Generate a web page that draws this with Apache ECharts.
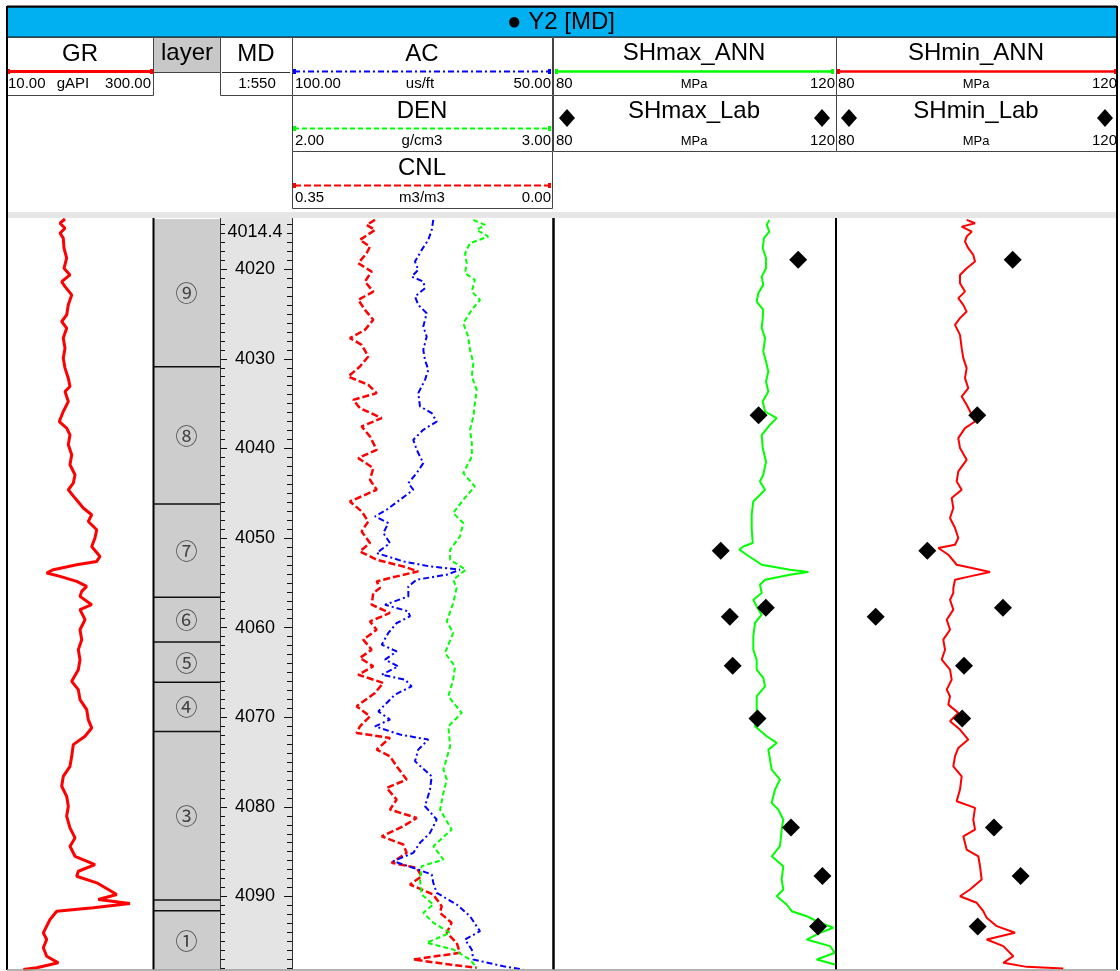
<!DOCTYPE html>
<html><head><meta charset="utf-8">
<script src="https://cdn.jsdelivr.net/npm/echarts@6/dist/echarts.min.js"></script>
<style>html,body{margin:0;padding:0;background:#fff}#c{width:1120px;height:971px}</style>
</head><body><div id="c"></div>
<script>
const FONT = '"Liberation Sans", Arial, Helvetica, sans-serif';
const CJK = '"Noto Sans CJK SC", "DejaVu Sans", sans-serif';

// ---------- depth range & MD ticks ----------
const depthTop = 4014.4;
const depthBottom = 4098.2;
const mdMajorTicks = [4020, 4030, 4040, 4050, 4060, 4070, 4080, 4090];
const mdTopLabel = '4014.4';

// ---------- track scales (header tick labels) ----------
const grScale = [10, 300];
const acScale = [100, 50];
const denScale = [2, 3];
const cnlScale = [0.35, 0];
const shScale = [80, 120];

// ---------- layers ----------
const layerNames = ['⑨', '⑧', '⑦', '⑥', '⑤', '④', '③', '②', '①'];
const layerTop  = [4014.4, 4030.9, 4046.2, 4056.6, 4061.6, 4066.1, 4071.6, 4090.4, 4091.6];
const layerBase = [4030.9, 4046.2, 4056.6, 4061.6, 4066.1, 4071.6, 4090.4, 4091.6, 4098.2];

// ---------- curves: [depth, value] ----------
const grCurve = [[4014.4,125.6],[4014.87,115.5],[4015.43,125.6],[4015.99,115.5],[4016.54,122.1],[4017.66,123.6],[4018.77,129.0],[4019.89,123.6],[4020.64,135.7],[4021.38,118.9],[4021.94,125.6],[4022.87,139.2],[4023.98,132.3],[4025.10,129.0],[4025.84,118.9],[4026.58,129.0],[4027.69,122.1],[4028.81,125.6],[4029.93,122.1],[4031.04,125.6],[4032.16,132.3],[4033.09,135.7],[4033.65,125.6],[4034.77,132.3],[4035.88,122.1],[4037.00,114.0],[4037.73,129.0],[4038.48,135.7],[4039.59,132.3],[4040.71,139.2],[4041.82,135.7],[4042.94,145.9],[4043.87,142.4],[4044.61,132.3],[4045.54,145.9],[4046.65,162.7],[4047.40,179.7],[4048.15,172.8],[4049.07,189.9],[4050.00,186.4],[4050.94,179.7],[4052.05,196.6],[4052.61,189.9],[4052.98,149.3],[4053.53,101.9],[4053.90,88.5],[4054.28,115.5],[4054.84,149.3],[4055.40,169.6],[4055.95,159.5],[4056.51,156.0],[4057.44,179.7],[4057.99,156.0],[4059.11,166.2],[4060.23,156.0],[4061.34,159.5],[4062.46,152.6],[4063.57,156.0],[4064.69,152.6],[4065.99,139.2],[4066.92,152.6],[4068.03,156.0],[4069.15,169.6],[4070.26,172.8],[4071.19,179.7],[4072.12,166.2],[4073.05,142.4],[4074.36,139.2],[4075.47,135.7],[4076.59,122.1],[4077.70,118.9],[4078.82,129.0],[4079.93,132.3],[4081.05,129.0],[4082.34,135.7],[4083.46,145.9],[4084.39,135.7],[4085.51,145.9],[4086.43,186.4],[4087.18,152.6],[4087.74,149.3],[4088.47,189.9],[4089.22,213.4],[4089.78,230.4],[4090.34,193.1],[4090.78,257.4],[4091.26,183.0],[4091.64,108.8],[4092.57,95.2],[4094.05,81.6],[4094.80,88.5],[4095.72,81.6],[4096.66,88.5],[4097.40,112.0],[4097.95,68.2],[4098.14,41.0]];

const acCurve = [[4014.50,72.81],[4015.62,73.12],[4016.73,73.78],[4017.85,75.06],[4019.15,76.36],[4020.08,75.72],[4020.83,77.00],[4021.38,74.75],[4022.12,74.42],[4023.06,76.36],[4023.98,75.72],[4024.91,74.09],[4026.40,74.75],[4027.52,74.09],[4029.00,74.75],[4030.12,74.42],[4031.23,73.78],[4032.35,74.42],[4033.83,75.72],[4035.32,75.39],[4036.06,73.12],[4037.00,72.15],[4037.92,74.75],[4039.04,76.69],[4040.15,76.03],[4041.64,74.75],[4042.75,76.03],[4043.87,77.65],[4044.61,76.69],[4045.73,79.26],[4046.84,81.84],[4047.59,84.11],[4048.33,81.53],[4049.44,82.50],[4050.56,81.20],[4051.67,83.78],[4052.61,78.62],[4053.17,73.45],[4053.53,67.64],[4054.09,70.21],[4054.65,76.03],[4055.40,77.65],[4056.51,77.65],[4057.44,82.17],[4058.18,77.65],[4058.74,77.33],[4059.48,79.90],[4060.59,81.53],[4061.90,82.81],[4062.65,79.90],[4063.57,82.17],[4064.32,79.59],[4065.25,82.81],[4065.80,78.29],[4066.55,77.00],[4067.47,80.23],[4068.40,81.84],[4069.34,83.47],[4070.26,81.20],[4071.01,84.11],[4071.93,79.26],[4072.49,73.78],[4073.61,75.72],[4074.91,76.36],[4076.59,73.12],[4078.07,73.45],[4079.93,74.42],[4081.41,72.15],[4082.90,73.45],[4084.01,75.39],[4085.13,76.69],[4086.06,80.56],[4086.99,75.72],[4087.55,73.12],[4088.47,72.81],[4089.59,72.15],[4090.89,68.28],[4092.20,65.70],[4093.87,63.76],[4094.80,66.67],[4095.91,65.37],[4097.03,65.06],[4097.78,59.24],[4098.14,55.37]];

const denCurve = [[4014.50,2.699],[4015.06,2.744],[4015.62,2.712],[4016.36,2.757],[4017.10,2.686],[4018.22,2.667],[4019.33,2.673],[4020.45,2.667],[4021.19,2.705],[4022.50,2.693],[4023.42,2.725],[4024.54,2.693],[4026.02,2.660],[4027.52,2.679],[4029.00,2.686],[4030.48,2.699],[4031.98,2.693],[4033.46,2.712],[4034.94,2.705],[4036.44,2.699],[4037.92,2.686],[4039.40,2.693],[4040.90,2.693],[4042.75,2.660],[4044.24,2.705],[4045.73,2.660],[4047.21,2.621],[4048.33,2.660],[4049.82,2.647],[4051.30,2.609],[4052.42,2.609],[4053.53,2.670],[4054.65,2.621],[4055.58,2.634],[4055.77,2.641],[4057.25,2.621],[4059.30,2.596],[4060.59,2.621],[4062.82,2.589],[4064.32,2.628],[4065.80,2.621],[4067.66,2.602],[4069.51,2.654],[4071.01,2.602],[4073.24,2.609],[4075.84,2.583],[4076.95,2.596],[4078.44,2.583],[4080.30,2.570],[4082.53,2.615],[4084.39,2.544],[4085.88,2.583],[4086.62,2.499],[4088.11,2.492],[4089.78,2.499],[4090.89,2.544],[4091.82,2.505],[4092.93,2.544],[4094.05,2.609],[4095.16,2.518],[4095.91,2.621],[4097.03,2.686],[4097.95,2.712]];

const cnlCurve = [[4014.50,0.2388],[4015.06,0.2501],[4015.62,0.2388],[4016.73,0.2592],[4017.48,0.2456],[4018.22,0.2501],[4019.33,0.2615],[4020.27,0.2433],[4021.38,0.2524],[4022.50,0.2411],[4023.42,0.2615],[4024.54,0.2524],[4025.65,0.2411],[4026.77,0.2524],[4027.69,0.2728],[4028.44,0.2569],[4029.75,0.2479],[4030.86,0.2592],[4031.98,0.2751],[4032.90,0.2479],[4033.83,0.2365],[4034.58,0.2683],[4035.50,0.2592],[4036.62,0.2297],[4037.55,0.2569],[4038.67,0.2456],[4040.15,0.2365],[4041.08,0.2615],[4042.19,0.2411],[4043.50,0.2456],[4044.61,0.2365],[4045.92,0.2728],[4047.03,0.2569],[4048.15,0.2479],[4049.26,0.2569],[4050.56,0.2456],[4051.49,0.2592],[4052.42,0.2365],[4053.17,0.2004],[4053.72,0.1801],[4054.28,0.2094],[4054.84,0.2365],[4055.58,0.2320],[4056.13,0.2411],[4057.44,0.2433],[4058.36,0.2185],[4059.30,0.2456],[4060.23,0.2365],[4061.34,0.2547],[4062.46,0.2433],[4063.38,0.2592],[4064.32,0.2411],[4065.25,0.2615],[4066.17,0.2276],[4067.28,0.2388],[4068.78,0.2637],[4069.89,0.2456],[4071.01,0.2592],[4071.75,0.2637],[4072.30,0.2185],[4073.61,0.2365],[4074.35,0.2185],[4075.47,0.2094],[4076.95,0.1958],[4077.88,0.2230],[4079.19,0.2094],[4080.30,0.2185],[4081.23,0.1822],[4082.16,0.2004],[4083.28,0.2297],[4084.20,0.2004],[4085.13,0.1958],[4086.24,0.2162],[4086.80,0.1822],[4087.74,0.1755],[4088.66,0.1913],[4089.78,0.1597],[4091.08,0.1483],[4091.82,0.1506],[4092.93,0.1348],[4094.05,0.1415],[4095.16,0.1280],[4096.28,0.1235],[4097.03,0.1869],[4097.59,0.1371],[4097.95,0.1008]];

const shmaxAnn = [[4014.50,110.65],[4015.06,110.28],[4015.81,110.65],[4016.54,109.89],[4017.66,109.71],[4018.77,110.18],[4019.89,110.18],[4020.83,109.57],[4021.75,109.79],[4022.68,109.08],[4023.61,108.85],[4024.54,109.79],[4025.46,109.71],[4026.58,109.57],[4027.69,110.04],[4029.19,109.79],[4030.30,110.18],[4031.42,110.51],[4032.53,110.18],[4033.65,110.51],[4034.77,109.71],[4035.88,110.04],[4036.62,111.70],[4037.36,110.75],[4038.48,109.57],[4039.96,109.71],[4041.46,110.18],[4042.94,109.79],[4043.69,109.32],[4044.61,110.04],[4045.92,108.37],[4047.40,108.14],[4048.88,108.14],[4050.56,108.28],[4050.94,106.95],[4051.30,106.38],[4051.86,107.43],[4052.98,109.57],[4053.53,113.59],[4053.79,116.20],[4054.09,113.59],[4054.65,110.04],[4055.21,109.32],[4056.13,109.57],[4056.88,108.37],[4057.63,108.85],[4058.55,109.57],[4059.48,108.61],[4060.97,108.37],[4062.46,108.37],[4063.57,108.85],[4064.69,108.85],[4065.61,109.79],[4066.55,110.04],[4067.66,108.85],[4068.78,108.85],[4069.89,108.85],[4071.01,108.61],[4072.12,110.28],[4072.86,111.70],[4073.61,110.51],[4074.72,110.75],[4075.84,110.99],[4076.95,112.17],[4078.07,111.46],[4079.55,110.99],[4080.30,111.93],[4081.41,112.64],[4082.53,112.41],[4084.39,112.17],[4085.51,110.99],[4086.62,112.64],[4088.11,112.41],[4089.22,112.64],[4089.97,111.70],[4090.89,113.12],[4091.64,113.84],[4092.20,115.97],[4092.76,117.39],[4093.49,119.76],[4094.05,117.86],[4094.80,115.97],[4095.54,119.29],[4096.28,120.0],[4097.03,117.39],[4097.59,120.0]];

const shminAnn = [[4014.50,98.60],[4014.87,99.79],[4015.25,97.89],[4015.81,99.32],[4016.36,98.60],[4016.92,98.36],[4017.66,98.83],[4018.41,99.54],[4019.15,99.79],[4019.89,98.60],[4020.64,97.65],[4021.56,97.65],[4022.50,98.36],[4023.23,97.41],[4023.98,98.12],[4024.73,98.60],[4025.46,97.65],[4026.21,96.94],[4027.33,97.65],[4028.81,97.89],[4029.93,98.12],[4031.04,98.60],[4032.16,98.36],[4033.27,98.83],[4034.21,97.89],[4035.13,98.60],[4036.25,99.32],[4037.00,99.79],[4037.73,98.36],[4038.85,97.41],[4039.96,97.65],[4041.27,98.60],[4042.57,97.41],[4043.69,97.18],[4044.61,97.89],[4045.54,96.47],[4046.65,96.70],[4047.77,96.23],[4048.88,96.94],[4050.00,97.41],[4050.75,96.94],[4051.11,94.56],[4051.86,95.99],[4052.98,97.18],[4053.53,100.50],[4053.79,101.92],[4054.28,99.07],[4054.65,96.94],[4055.58,96.70],[4056.13,96.70],[4056.88,96.23],[4057.99,96.70],[4059.11,95.76],[4060.23,96.23],[4061.34,95.27],[4062.46,95.52],[4063.57,95.05],[4064.69,96.23],[4065.80,96.47],[4066.92,95.76],[4067.66,96.23],[4068.59,95.99],[4069.51,97.41],[4070.45,96.23],[4071.37,97.65],[4072.49,98.83],[4073.42,97.41],[4074.35,96.94],[4075.47,96.70],[4076.59,97.89],[4078.07,97.65],[4079.37,97.18],[4080.11,99.79],[4081.41,99.54],[4082.53,99.79],[4083.28,98.12],[4084.76,98.60],[4085.51,100.26],[4086.62,100.50],[4088.11,100.74],[4089.22,99.07],[4089.97,97.65],[4090.70,100.03],[4091.64,100.97],[4092.38,101.45],[4093.31,102.88],[4094.05,105.48],[4094.80,101.45],[4095.54,103.82],[4096.66,105.24],[4097.40,103.82],[4097.85,107.15],[4098.03,112.36]];

// ---------- lab points ----------
const labDepth = [4018.96, 4036.30, 4051.42, 4057.78, 4058.78, 4064.24, 4070.15, 4082.30, 4087.71, 4093.35];
const shmaxLab = [114.76, 109.12, 103.74, 110.15, 105.03, 105.44, 108.97, 113.74, 118.21, 117.58];
const shminLab = [105.15, 100.11, 93.00, 103.76, 85.65, 98.22, 97.96, 102.48, 106.28, 100.17];

// ================= layout =================
const TOP = 219, H = 751;
const g = (left, width) => ({ left, width, top: TOP, height: H, containLabel: false });
const grids = [g(8,143), g(153,67), g(220,72), g(293,258), g(293,258), g(293,258), g(554,281), g(836,281)];

const hx = (i, a, b) => ({ type: 'value', gridIndex: i, min: Math.min(a,b), max: Math.max(a,b), inverse: a > b, show: false, splitLine:{show:false} });
const xAxes = [hx(0, grScale[0], grScale[1]), hx(1,0,1), hx(2,0,1), hx(3, acScale[0], acScale[1]), hx(4, denScale[0], denScale[1]), hx(5, cnlScale[0], cnlScale[1]), hx(6, shScale[0], shScale[1]), hx(7, shScale[0], shScale[1])];

const hy = i => ({ type: 'value', gridIndex: i, min: depthTop, max: depthBottom, inverse: true, show: false, splitLine:{show:false} });
const minorTicks = [];
for (let d = Math.ceil(depthTop); d <= Math.floor(depthBottom); d++) minorTicks.push(d);

const mdAxis = (pos, len, ticks, labels) => ({
  type: 'value', gridIndex: 2, min: depthTop, max: depthBottom, inverse: true, position: pos,
  axisLine: { show: false }, splitLine: { show: false },
  axisTick: { show: true, inside: true, length: len, customValues: ticks, lineStyle: { color: '#111', width: 1 } },
  axisLabel: labels ? {
    show: true, inside: true, margin: 35, align: 'center', color: '#000', fontSize: 18, fontFamily: FONT,
    customValues: [depthTop].concat(mdMajorTicks), showMinLabel: true,
    formatter: v => Math.abs(v - depthTop) < 1e-6 ? '{t|' + mdTopLabel + '}' : String(Math.round(v)),
    rich: { t: { fontSize: 18, fontFamily: FONT, color: '#000', padding: [26, 0, 0, 0] } }
  } : { show: false }
});

const yAxes = [hy(0), hy(1), mdAxis('left', 7, mdMajorTicks, true), hy(3), hy(4), hy(5), hy(6), hy(7),
  mdAxis('right', 8, mdMajorTicks, false), mdAxis('left', 5, minorTicks, false), mdAxis('right', 5, minorTicks, false)];

const flip = arr => arr.map(p => [p[1], p[0]]);
const lineSeries = (name, xi, data, style) => ({
  type: 'line', name, xAxisIndex: xi, yAxisIndex: xi, data: flip(data), showSymbol: false, symbol: 'none',
  lineStyle: style, z: 3, animation: false, silent: true
});
const labSeries = (name, xi, vals) => ({
  type: 'scatter', name, xAxisIndex: xi, yAxisIndex: xi, symbol: 'diamond', symbolSize: 18,
  itemStyle: { color: '#000', opacity: 1 }, z: 5, animation: false, silent: true,
  data: labDepth.map((d, i) => [vals[i], d])
});

const series = [
  lineSeries('GR', 0, grCurve, { color: '#FF0000', width: 3 }),
  {
    type: 'custom', name: 'layer', xAxisIndex: 1, yAxisIndex: 1, animation: false, silent: true, z: 1,
    data: layerTop.map((t, i) => [0, t, layerBase[i]]),
    renderItem: function (params, api) {
      const cs = params.coordSys;
      const y0 = api.coord([0, api.value(1)])[1];
      const y1 = api.coord([0, api.value(2)])[1];
      const kids = [{ type: 'rect', shape: { x: cs.x, y: y0, width: cs.width, height: y1 - y0 }, style: { fill: '#CDCDCD' } }];
      if (params.dataIndex > 0) kids.push({ type: 'line', shape: { x1: cs.x, y1: y0, x2: cs.x + cs.width, y2: y0 }, style: { stroke: '#111', lineWidth: 1.5 } });
      if (y1 - y0 > 24) kids.push({ type: 'text', style: { text: layerNames[params.dataIndex], x: cs.x + cs.width / 2, y: (y0 + y1) / 2, align: 'center', verticalAlign: 'middle', font: '22px ' + CJK, fill: '#444' } });
      return { type: 'group', children: kids };
    }
  },
  lineSeries('CNL', 5, cnlCurve, { color: '#FF0000', width: 2.5, type: [7, 3] }),
  lineSeries('DEN', 4, denCurve, { color: '#00FF00', width: 2, type: [5, 3] }),
  lineSeries('AC', 3, acCurve, { color: '#0000FF', width: 2, type: [6, 3, 2, 3] }),
  lineSeries('SHmax_ANN', 6, shmaxAnn, { color: '#00FF00', width: 2 }),
  lineSeries('SHmin_ANN', 7, shminAnn, { color: '#FF0000', width: 2 }),
  labSeries('SHmax_Lab', 6, shmaxLab),
  labSeries('SHmin_Lab', 7, shminLab)
];

// ================= header & frame graphics =================
const G = [];
function rect(x, y, w, h, fill, stroke, lw, z) { G.push({ type: 'rect', shape: { x, y, width: w, height: h }, style: { fill: fill || 'none', stroke: stroke || null, lineWidth: lw || 1 }, z: z || 0, silent: true }); }
function line(x1, y1, x2, y2, color, w, dash, z) { G.push({ type: 'line', shape: { x1, y1, x2, y2 }, style: { stroke: color, lineWidth: w, lineDash: dash || null }, z: z === undefined ? 8 : z, silent: true }); }
function text(x, y, s, size, align, color, font) { G.push({ type: 'text', x, y, style: { text: s, font: size + 'px ' + (font || FONT), fill: color || '#000', align: align || 'center', verticalAlign: 'middle', textAlign: align || 'center', textVerticalAlign: 'middle' }, z: 10, silent: true }); }
function diamond(cx, cy, rx, ry) { G.push({ type: 'polygon', shape: { points: [[cx, cy - ry], [cx + rx, cy], [cx, cy + ry], [cx - rx, cy]] }, style: { fill: '#000' }, z: 10, silent: true }); }
function scaleLine(x1, x2, y, color, w, dash) { line(x1, y, x2, y, color, w, dash); rect(x1 - 1, y - 2.5, 3, 5, color, null, 1, 9); rect(x2 - 2, y - 2.5, 3, 5, color, null, 1, 9); }

// body backgrounds
rect(221, 218, 71, 752, '#E4E4E4', null, 1, -1);
rect(7, 212, 1110, 6, '#E6E6E6', null, 1, 1);

// title bar
rect(7, 7, 1110, 30, '#00B0F0', '#111', 1, 1);
text(561, 22, '● Y2 [MD]', 24, 'center', '#000');

// header boxes
const BS = '#444';
rect(7.5, 37.5, 146, 58, '#fff', BS, 1, 1);
rect(153.5, 37.5, 67, 35, '#C8C8C8', BS, 1, 1);
rect(220.5, 37.5, 72, 58, '#fff', BS, 1, 1);
rect(292.5, 37.5, 260, 58, '#fff', BS, 1, 1);
rect(292.5, 95.5, 260, 56, '#fff', BS, 1, 1);
rect(292.5, 151.5, 260, 57, '#fff', BS, 1, 1);
rect(553.5, 37.5, 283, 58, '#fff', BS, 1, 1);
rect(553.5, 95.5, 283, 56, '#fff', BS, 1, 1);
rect(836.5, 37.5, 281, 58, '#fff', BS, 1, 1);
rect(836.5, 95.5, 281, 56, '#fff', BS, 1, 1);

// GR header
text(80, 54, 'GR', 24);
scaleLine(8, 152, 71.5, '#FF0000', 3);
text(8, 84, grScale[0].toFixed(2), 15, 'left');
text(73, 84, 'gAPI', 15, 'center');
text(151, 84, grScale[1].toFixed(2), 15, 'right');
// layer header
text(187, 53, 'layer', 24);
// MD header
text(256, 54, 'MD', 24);
line(222, 72.5, 290, 72.5, '#333', 1);
text(257, 84, '1:550', 15, 'center');
// AC / DEN / CNL
text(422, 54, 'AC', 24);
scaleLine(294, 550, 71.5, '#0000FF', 2, [6, 3, 2, 3]);
text(295, 84, acScale[0].toFixed(2), 15, 'left');
text(420, 84, 'us/ft', 15, 'center');
text(551, 84, acScale[1].toFixed(2), 15, 'right');
text(422, 111, 'DEN', 24);
scaleLine(294, 550, 128.5, '#00FF00', 2, [5, 3]);
text(295, 141, denScale[0].toFixed(2), 15, 'left');
text(422, 141, 'g/cm3', 15, 'center');
text(551, 141, denScale[1].toFixed(2), 15, 'right');
text(422, 168, 'CNL', 24);
scaleLine(294, 550, 185.5, '#FF0000', 2, [7, 3]);
text(295, 197.5, cnlScale[0].toFixed(2), 15, 'left');
text(422, 197.5, 'm3/m3', 15, 'center');
text(551, 197.5, cnlScale[1].toFixed(2), 15, 'right');
// SHmax
text(694, 53, 'SHmax_ANN', 24);
scaleLine(556, 833, 71.5, '#00FF00', 2.5);
text(556, 84, String(shScale[0]), 15, 'left');
text(694, 84, 'MPa', 13, 'center');
text(835, 84, String(shScale[1]), 15, 'right');
text(694, 111, 'SHmax_Lab', 24);
diamond(567, 118, 8, 9); diamond(822, 118, 8, 9);
text(556, 141, String(shScale[0]), 15, 'left');
text(694, 141, 'MPa', 13, 'center');
text(835, 141, String(shScale[1]), 15, 'right');
// SHmin
text(976, 53, 'SHmin_ANN', 24);
scaleLine(838, 1116, 71.5, '#FF0000', 2.5);
text(838, 84, String(shScale[0]), 15, 'left');
text(976, 84, 'MPa', 13, 'center');
text(1117, 84, String(shScale[1]), 15, 'right');
text(976, 111, 'SHmin_Lab', 24);
diamond(849, 118, 8, 9); diamond(1105, 118, 8, 9);
text(838, 141, String(shScale[0]), 15, 'left');
text(976, 141, 'MPa', 13, 'center');
text(1117, 141, String(shScale[1]), 15, 'right');

// body separators
line(153.5, 218, 153.5, 970, '#000', 2, null, 8);
line(220.5, 218, 220.5, 970, '#333', 1, null, 8);
line(292.5, 218, 292.5, 970, '#333', 1, null, 8);
line(553.5, 218, 553.5, 970, '#000', 2.5, null, 8);
line(836, 218, 836, 970, '#000', 2, null, 8);
// frame
line(7, 6.5, 1117, 6.5, '#000', 2, null, 12);
line(7, 6, 7, 970, '#000', 2, null, 12);
line(1117, 6, 1117, 970, '#000', 2, null, 12);
line(7, 970, 1117, 970, '#9a9a9a', 1.5, null, 12);

const chart = echarts.init(document.getElementById('c'), null, { renderer: 'canvas', width: 1120, height: 971 });
chart.setOption({
  backgroundColor: '#ffffff',
  animation: false,
  grid: grids,
  xAxis: xAxes,
  yAxis: yAxes,
  series: series,
  graphic: { elements: G }
});
</script></body></html>
